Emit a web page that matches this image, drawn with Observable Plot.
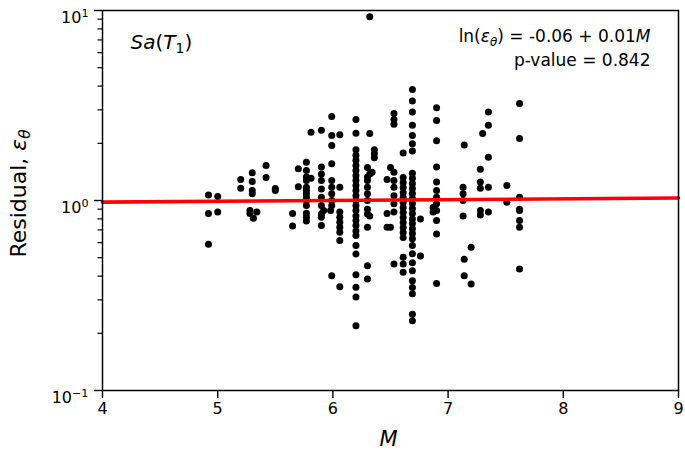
<!DOCTYPE html>
<html>
<head>
<meta charset="utf-8">
<script src="https://cdn.jsdelivr.net/npm/d3@7"></script>
<script src="https://cdn.jsdelivr.net/npm/@observablehq/plot@0.6"></script>
<style>
  html, body { margin: 0; padding: 0; background: white; }
  svg text { font-family: "DejaVu Sans", sans-serif; }
</style>
</head>
<body>
<div id="chart"></div>
<script>
// Magnitude columns and the residuals read at each column
const colM = [4.92, 5.00, 5.20, 5.30, 5.28, 5.31, 5.34, 5.42, 5.50, 5.65, 5.70, 5.77, 5.81, 5.90, 5.92, 5.99, 5.98, 6.06, 6.20, 6.30, 6.32, 6.34, 6.36, 6.47, 6.50, 6.53, 6.61, 6.69, 6.76, 6.87, 6.90, 7.13, 7.14, 7.20, 7.28, 7.30, 7.35, 7.51, 7.62];
const colEps = [
  [1.07, 0.854, 0.588],
  [1.05, 0.87],
  [1.29, 1.16],
  [1.40, 1.26, 1.13, 1.085],
  [0.886, 0.854],
  [0.807],
  [0.87],
  [1.53, 1.32],
  [1.157, 1.13],
  [0.854, 0.735],
  [1.47, 1.18],
  [1.59, 1.44, 1.33, 1.275, 1.175, 1.13, 1.085, 1.04, 1.0, 0.94, 0.857, 0.816, 0.78],
  [2.29, 1.31],
  [2.34, 1.50, 1.38, 1.275, 1.15, 1.04, 0.94, 0.85, 0.816, 0.738],
  [0.886],
  [2.77, 2.20, 1.95, 1.56, 1.275, 1.175, 1.085, 1.0, 0.94, 0.402],
  [0.886],
  [2.22, 1.175, 0.87, 0.816, 0.768, 0.723, 0.68, 0.615, 0.352],
  [2.67, 2.26, 1.85, 1.73, 1.63, 1.53, 1.44, 1.35, 1.275, 1.20, 1.13, 1.06, 1.00, 0.94, 0.886, 0.83, 0.784, 0.738, 0.69, 0.654, 0.579, 0.523, 0.407, 0.349, 0.311, 0.219],
  [1.49, 1.33, 1.275, 1.175, 1.085, 1.0, 0.90, 0.85, 0.723, 0.454, 0.386],
  [9.28, 2.25, 1.38, 0.83],
  [1.41],
  [1.85, 1.76, 1.68],
  [1.29, 0.854, 0.723],
  [1.49, 0.723],
  [2.87, 2.67, 2.52, 1.41, 1.275, 1.175, 1.06, 0.96, 0.87, 0.463],
  [1.78, 1.32, 1.245, 1.17, 1.10, 1.04, 0.976, 0.918, 0.864, 0.813, 0.765, 0.72, 0.678, 0.638, 0.502, 0.463, 0.419],
  [3.84, 3.34, 2.92, 2.49, 2.20, 1.99, 1.82, 1.39, 1.31, 1.23, 1.157, 1.089, 1.025, 0.964, 0.907, 0.854, 0.80, 0.756, 0.711, 0.67, 0.63, 0.579, 0.525, 0.47, 0.427, 0.378, 0.348, 0.323, 0.252, 0.233],
  [0.80, 0.51],
  [0.92, 0.87],
  [3.08, 2.64, 2.06, 1.50, 1.25, 1.13, 1.04, 0.96, 0.886, 0.784, 0.667, 0.366],
  [1.175, 1.085, 1.0, 0.83],
  [1.96, 0.49, 0.402],
  [0.567, 0.363],
  [1.46, 1.25, 1.16, 0.886, 0.84],
  [2.25],
  [2.92, 2.49, 1.69, 1.175, 0.87],
  [1.20, 0.98],
  [3.24, 2.12, 1.04, 0.90, 0.886, 0.784, 0.723, 0.436]
];
// Regression: ln(eps) = a + b*M
const fitA = -0.06;
const fitB = 0.01;
const fitM = [4, 9];
const xTicks = [4, 5, 6, 7, 8, 9];
const yMajor = [0.1, 1, 10];
const yMajorExp = ["\u22121", "0", "1"];
const yMinor = [0.2, 0.3, 0.4, 0.5, 0.6, 0.7, 0.8, 0.9, 2, 3, 4, 5, 6, 7, 8, 9];

const points = [];
colM.forEach((m, i) => colEps[i].forEach(e => points.push({M: m, eps: e})));
const fit = fitM.map(m => ({M: m, eps: Math.exp(fitA + fitB * m)}));

const chart = Plot.plot({
  width: 685,
  height: 456,
  marginLeft: 102,
  marginRight: 7,
  marginTop: 10,
  marginBottom: 66,
  style: {fontFamily: "DejaVu Sans", fontSize: "16px", color: "black", background: "white"},
  x: {domain: [4, 9]},
  y: {type: "log", domain: [0.1, 10]},
  marks: [
    Plot.dot(points, {x: "M", y: "eps", r: 3.5, fill: "black", stroke: "none"}),
    Plot.line(fit, {x: "M", y: "eps", stroke: "#ff0000", strokeWidth: 3.6}),
    Plot.frame({stroke: "black", strokeWidth: 1.5}),
    Plot.axisX({ticks: xTicks, tickSize: 8, tickPadding: 4, strokeWidth: 1.4, tickFormat: d => String(d), label: null, fontSize: 16}),
    Plot.axisY({ticks: yMajor, tickSize: 8, tickPadding: 6, strokeWidth: 1.4, tickFormat: d => "@POW" + yMajorExp[yMajor.indexOf(d)], label: null, fontSize: 16}),
    Plot.axisY({ticks: yMinor, tickSize: 4.5, strokeWidth: 1.2, tickFormat: () => "", label: null}),
    Plot.text(["@YLABEL"], {frameAnchor: "left", dx: -84, dy: -7, rotate: -90, text: d => d, fontSize: 22, textAnchor: "middle", lineAnchor: "middle"}),
    Plot.text(["@XLABEL"], {frameAnchor: "bottom", dx: -2, dy: 49, text: d => d, fontSize: 21, textAnchor: "middle", lineAnchor: "middle"}),
    Plot.text(["@SA"], {frameAnchor: "top-left", dx: 28, dy: 32, text: d => d, fontSize: 20, textAnchor: "start", lineAnchor: "middle"}),
    Plot.text(["@EQ"], {frameAnchor: "top-right", dx: -28, dy: 26, text: d => d, fontSize: 17, textAnchor: "end", lineAnchor: "middle"}),
    Plot.text(["p-value = 0.842"], {frameAnchor: "top-right", dx: -28, dy: 50, text: d => d, fontSize: 17, textAnchor: "end", lineAnchor: "middle"})
  ]
});
document.getElementById("chart").appendChild(chart);

// Rich text (italics, subscripts, superscripts) for labels
const rich = {
  "@YLABEL": [["Residual, ", {}], ["\u03B5", {italic: true}], ["\u03B8", {italic: true, sub: true}]],
  "@XLABEL": [["M", {italic: true}]],
  "@SA": [["Sa", {italic: true}], ["(", {}], ["T", {italic: true}], ["1", {sub: true}], [")", {}]],
  "@EQ": [["ln(", {}], ["\u03B5", {italic: true}], ["\u03B8", {italic: true, sub: true}], [") = -0.06 + 0.01", {}], ["M", {italic: true}]]
};
yMajorExp.forEach(e => { rich["@POW" + e] = [["10", {}], [e, {sup: true}]]; });
d3.select(chart).selectAll("text").each(function () {
  const key = this.textContent;
  if (!(key in rich)) return;
  const t = d3.select(this);
  t.text("");
  let shift = 0;
  for (const [str, o] of rich[key]) {
    const sp = t.append("tspan").text(str);
    if (o.italic) sp.attr("font-style", "italic");
    if (o.sub) { sp.attr("font-size", "70%").attr("dy", "0.3em"); shift = 1; }
    else if (o.sup) { sp.attr("font-size", "70%").attr("dy", "-0.5em"); shift = -1; }
    else if (shift === 1) { sp.attr("dy", "-0.21em"); shift = 0; }
  }
  if (key.startsWith("@POW")) t.attr("dy", "0.45em");
});
</script>
</body>
</html>
